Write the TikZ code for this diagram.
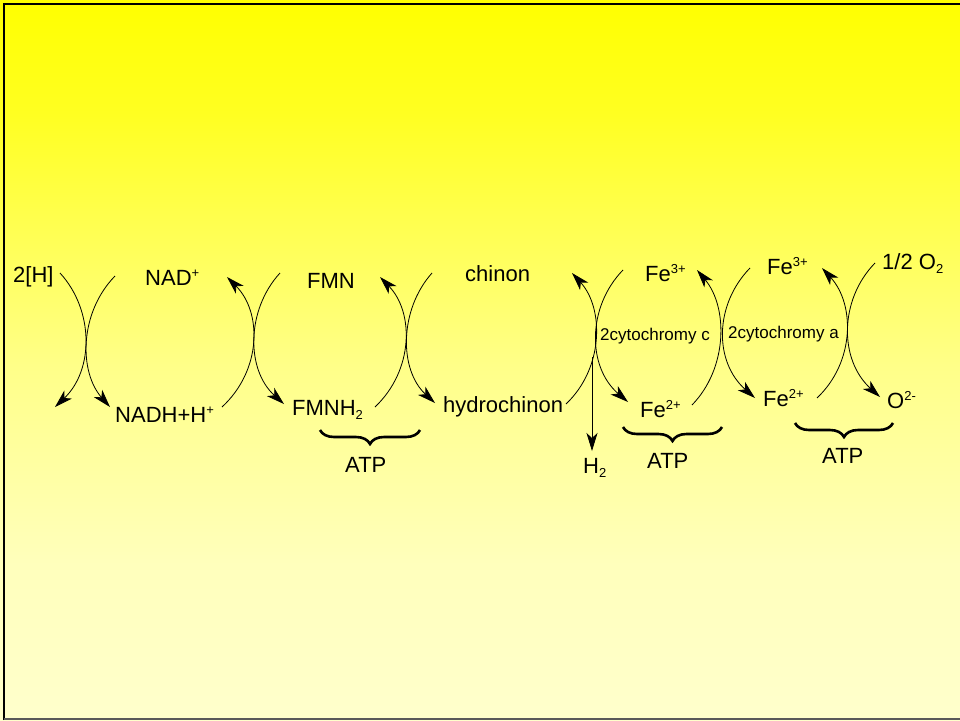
\documentclass[tikz,border=0pt]{standalone}
\usepackage{fontspec}
\setmainfont{Liberation Sans}
\usetikzlibrary{arrows.meta,decorations.pathreplacing}
\newcommand\myup[1]{\raisebox{8pt}{\fontsize{13}{13}\selectfont #1}}
\newcommand\mydn[1]{\raisebox{-4.5pt}{\fontsize{13}{13}\selectfont #1}}
\definecolor{bgtop}{RGB}{255,255,0}
\definecolor{bgc1}{RGB}{255,255,34}
\definecolor{bgc2}{RGB}{255,255,76}
\definecolor{bgc3}{RGB}{255,255,136}
\definecolor{bgc4}{RGB}{255,255,188}
\definecolor{bgbot}{RGB}{255,255,204}
\pgfdeclareverticalshading{bgshade}{100bp}{color(0bp)=(bgbot); color(25bp)=(bgbot); color(35.8bp)=(bgc4); color(49.65bp)=(bgc3); color(60.1bp)=(bgc2); color(67bp)=(bgc1); color(75bp)=(bgtop); color(100bp)=(bgtop)}
\tikzset{
  lbl/.style={anchor=base west, inner sep=0pt, font=\fontsize{22}{24}\selectfont},
  smalllbl/.style={anchor=base west, inner sep=0pt, font=\fontsize{17}{19}\selectfont},
  arc/.style={line width=0.8pt, -{Stealth[length=18pt,width=11pt,inset=5pt]}},
  bracestyle/.style={line width=2.6pt, decorate, decoration={brace,mirror,amplitude=14pt}}
}
\begin{document}
\begin{tikzpicture}[x=1pt,y=-1pt]
\useasboundingbox (0,0) rectangle (960,720);
\shade[shading=bgshade] (0,0) rectangle (960,720);
\draw[line width=2.4pt] (4,720) -- (4,4) -- (960,4);
\draw[line width=1.2pt, black!65] (4,719) -- (960,719);

% labels
\node[lbl] (h2h) at (13,282) {2[H]};
\node[lbl] (nad) at (145,285) {NAD\myup{+}};
\node[lbl] (nadh) at (115,422) {NADH+H\myup{+}};
\node[lbl] (fmn) at (307,288) {FMN};
\node[lbl] (fmnh) at (292,415) {FMNH\mydn{2}};
\node[lbl] (atp1) at (345,472) {ATP};
\node[lbl] (chinon) at (465,281) {chinon};
\node[lbl] (hydro) at (443,412) {hydrochinon};
\node[lbl] (hh) at (583,473) {H\mydn{2}};
\node[lbl] (fe3a) at (645,281) {Fe\myup{3+}};
\node[smalllbl] (cytc) at (600,340) {2cytochromy c};
\node[lbl] (fe2a) at (640,417) {Fe\myup{2+}};
\node[lbl] (atp2) at (647,468) {ATP};
\node[lbl] (fe3b) at (767,274) {Fe\myup{3+}};
\node[smalllbl] (cyta) at (728,338) {2cytochromy a};
\node[lbl] (fe2b) at (763,406) {Fe\myup{2+}};
\node[lbl] (oxy) at (882,269) {1/2 O\mydn{2}};
\node[lbl] (oion) at (887,408) {O\myup{2-}};
\node[lbl] (atp3) at (822,463) {ATP};

% arc end points
\coordinate (a1s) at (60,273);  \coordinate (a1e) at (55,407);
\coordinate (b1s) at (115,276); \coordinate (b1e) at (110,407);
\coordinate (a2s) at (222,407); \coordinate (a2e) at (227,277);
\coordinate (b2s) at (280,273); \coordinate (b2e) at (284,404);
\coordinate (a3s) at (375,407); \coordinate (a3e) at (380,277);
\coordinate (b3s) at (432,273); \coordinate (b3e) at (435,403);
\coordinate (a4s) at (566,404); \coordinate (a4e) at (572,273);
\coordinate (b4s) at (623,270); \coordinate (b4e) at (628,402);
\coordinate (hs) at (592,357);  \coordinate (he) at (592,451);
\coordinate (a5s) at (692,405); \coordinate (a5e) at (697,270);
\coordinate (b5s) at (750,268); \coordinate (b5e) at (755,398);
\coordinate (a6s) at (817,398); \coordinate (a6e) at (822,268);
\coordinate (b6s) at (875,263); \coordinate (b6e) at (880,397);

% pair 1
\draw[arc] (a1s) .. controls (94,310) and (94,370) .. (a1e);
\draw[arc] (b1s) .. controls (79,313) and (79,372) .. (b1e);
% pair 2
\draw[arc] (a2s) .. controls (262,370) and (262,312) .. (a2e);
\draw[arc] (b2s) .. controls (246,310) and (246,370) .. (b2e);
% pair 3
\draw[arc] (a3s) .. controls (414,370) and (414,312) .. (a3e);
\draw[arc] (b3s) .. controls (399,310) and (399,370) .. (b3e);
% pair 4
\draw[arc] (a4s) .. controls (604,368) and (604,308) .. (a4e);
\draw[arc] (b4s) .. controls (587,307) and (587,367) .. (b4e);
\draw[arc] (hs) -- (he);
% pair 5
\draw[arc] (a5s) .. controls (728,368) and (728,307) .. (a5e);
\draw[arc] (b5s) .. controls (714,305) and (714,362) .. (b5e);
% pair 6
\draw[arc] (a6s) .. controls (855,362) and (855,304) .. (a6e);
\draw[arc] (b6s) .. controls (839,300) and (839,360) .. (b6e);

% braces
\coordinate (br1l) at (320,430); \coordinate (br1r) at (420,430);
\coordinate (br2l) at (623,427); \coordinate (br2r) at (722,427);
\coordinate (br3l) at (795,423); \coordinate (br3r) at (893,423);
\draw[bracestyle] (br1l) -- (br1r);
\draw[bracestyle] (br2l) -- (br2r);
\draw[bracestyle] (br3l) -- (br3r);
\end{tikzpicture}
\end{document}
